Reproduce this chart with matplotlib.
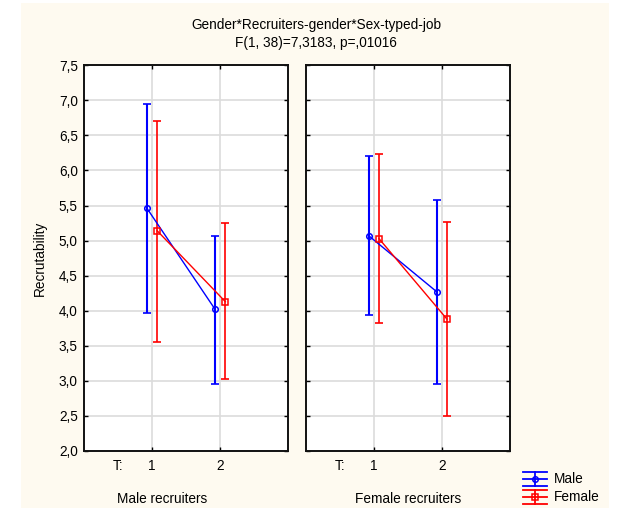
import matplotlib
matplotlib.use("Agg")
import matplotlib.pyplot as plt
import matplotlib.transforms as mtransforms
from matplotlib.lines import Line2D
from matplotlib.patches import Rectangle
import numpy as np

plt.rcParams['font.family'] = ['Liberation Sans', 'DejaVu Sans']

title1 = "Gender*Recruiters-gender*Sex-typed-job"
title2 = "F(1, 38)=7,3183, p=,01016"
panels = ["Male recruiters", "Female recruiters"]
levels = [1, 2]
series = ["Male", "Female"]
male_mean = [[5.46, 4.02], [5.07, 4.27]]
male_low = [[3.97, 2.96], [3.94, 2.95]]
male_high = [[6.95, 5.07], [6.21, 5.58]]
female_mean = [[5.14, 4.13], [5.03, 3.88]]
female_low = [[3.56, 3.02], [3.82, 2.50]]
female_high = [[6.71, 5.25], [6.23, 5.27]]
yticks = [2.0, 2.5, 3.0, 3.5, 4.0, 4.5, 5.0, 5.5, 6.0, 6.5, 7.0, 7.5]
ytick_labels = [f"{v:.1f}".replace(".", ",") for v in yticks]

FS = 9.8
W, H = 623, 512
fig = plt.figure(figsize=(W / 100, H / 100), dpi=100)
fig.patch.set_facecolor("white")

def px(x, y):
    return (x / W, 1 - y / H)

# cream background
bx0, by0 = px(21, 508)
bx1, by1 = px(609, 3)
fig.add_artist(Rectangle((bx0, by0), bx1 - bx0, by1 - by0, transform=fig.transFigure,
                         facecolor="#fefaf0", edgecolor="none", zorder=-10))

BLUE = "#0000ff"
RED = "#ff0000"
GRID = "#dcdcdc"

ax_pos = [(84, 288.3), (305.7, 510)]
top_px, bot_px = 65.3, 451
label_x = [1.15, 1.5]
axes = []
for i, (l, r) in enumerate(ax_pos):
    ax = fig.add_axes([l / W, (H - bot_px) / H, (r - l) / W, (bot_px - top_px) / H])
    ax.set_facecolor("white")
    ax.set_xlim(0, 3)
    ax.set_ylim(2.0, 7.5)
    ax.set_yticks(yticks)
    ax.set_xticks(levels)
    ax.set_xticklabels([str(v) for v in levels])
    ax.set_xticks([0.5], minor=True)
    ax.set_xticklabels(["T:"], minor=True)
    ax.tick_params(axis="x", which="minor", length=0, pad=6.0, labelsize=FS)
    ax.tick_params(axis="both", which="major", direction="in", length=3, width=1,
                   top=True, right=True, labelsize=FS, colors="black")
    ax.tick_params(axis="x", which="major", pad=6.0)
    ax.tick_params(axis="y", which="major", pad=4.5)
    if i == 0:
        ax.set_yticklabels(ytick_labels)
    else:
        ax.set_yticklabels([])
    ax.grid(True, which="major", color=GRID, linewidth=1.2)
    ax.set_axisbelow(True)
    for s in ax.spines.values():
        s.set_linewidth(1.4)
        s.set_color("#111111")

    xs = np.array(levels, dtype=float)
    off = 0.075
    for (mean, low, high, color, marker, lw, dx) in [
        (male_mean, male_low, male_high, BLUE, "o", 1.5, -off),
        (female_mean, female_low, female_high, RED, "s", 1.2, off),
    ]:
        m = np.array(mean[i])
        lo = np.array(low[i])
        hi = np.array(high[i])
        ax.errorbar(xs + dx, m, yerr=[m - lo, hi - m], fmt="none", ecolor=color,
                    elinewidth=lw, capsize=2.6, capthick=1.2, zorder=3)
        ax.plot(xs + dx, m, color=color, linewidth=1.0, marker=marker, markersize=4,
                markerfacecolor="none", markeredgecolor=color, markeredgewidth=1.1, zorder=4)
    tr = mtransforms.blended_transform_factory(ax.transData, fig.transFigure)
    ax.text(label_x[i], 1 - 499 / H, panels[i], fontsize=FS, ha="center", va="center",
            transform=tr)
    axes.append(ax)

fig.text(40 / W, 1 - 258 / H, "Recrutability", rotation=90, ha="center", va="center",
         fontsize=FS)

fig.text(316 / W, 1 - 25 / H, title1, ha="center", va="center", fontsize=FS)
fig.text(316 / W, 1 - 43 / H, title2, ha="center", va="center", fontsize=FS)

# legend drawn manually
def legend_entry(yc, color, marker, label):
    x0, x1, xc = 523, 547, 535.3
    for yy in (yc - 7.5, yc, yc + 7):
        a, b = px(x0, yy), px(x1, yy)
        fig.add_artist(Line2D([a[0], b[0]], [a[1], b[1]], transform=fig.transFigure,
                              color=color, linewidth=1.3))
    a, b = px(xc, yc - 7.5), px(xc, yc + 7)
    fig.add_artist(Line2D([a[0], b[0]], [a[1], b[1]], transform=fig.transFigure,
                          color=color, linewidth=1.3))
    c = px(xc, yc)
    fig.add_artist(Line2D([c[0]], [c[1]], transform=fig.transFigure, color=color,
                          marker=marker, markersize=4, markerfacecolor="none",
                          markeredgecolor=color, markeredgewidth=1.1, linestyle="none"))
    t = px(554, yc)
    fig.text(t[0], t[1], label, ha="left", va="center", fontsize=FS)

legend_entry(479.3, BLUE, "o", series[0])
legend_entry(497.3, RED, "s", series[1])

fig.savefig("out.png", dpi=100, facecolor=fig.get_facecolor())
